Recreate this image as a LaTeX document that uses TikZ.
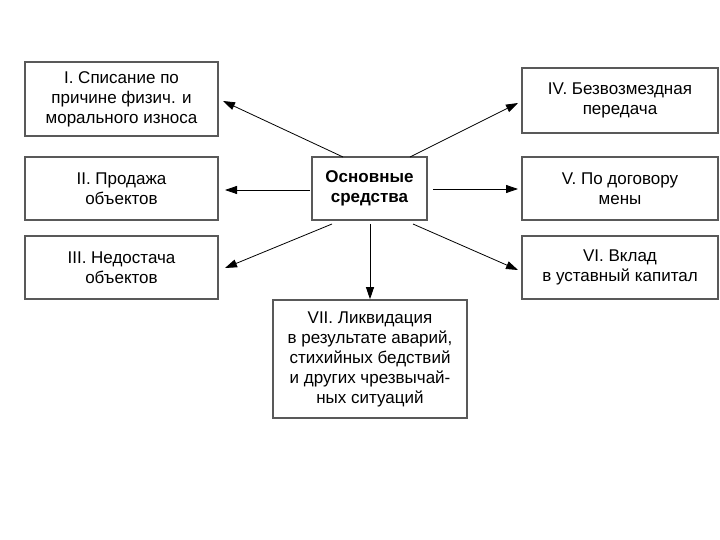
\documentclass[tikz,border=0pt]{standalone}
\usepackage{fontspec}
\setmainfont{Liberation Sans}
\usetikzlibrary{arrows.meta}
\begin{document}
\begin{tikzpicture}[x=1pt,y=-1pt,
  box/.style={draw=black!65,line width=1.6pt,align=center,font=\fontsize{17}{20}\selectfont,inner sep=0pt},
  arr/.style={-{Triangle[length=12pt,width=8pt]},line width=0.8pt}]
\useasboundingbox (0,0) rectangle (720,540);
\node[box,minimum width=193pt,minimum height=74pt] (b1) at (121.5,99) {I. Списание по\\причине физич. и\\морального износа};
\node[box,minimum width=193pt,minimum height=63pt] (b2) at (121.5,188.5) {II. Продажа\\объектов};
\node[box,minimum width=193pt,minimum height=63pt] (b3) at (121.5,267.5) {III. Недостача\\объектов};
\node[box,minimum width=196pt,minimum height=65pt] (b4) at (620,100.5) {IV. Безвозмездная\\передача};
\node[box,minimum width=196pt,minimum height=63pt] (b5) at (620,188.5) {V. По договору\\мены};
\node[box,minimum width=196pt,minimum height=63pt] (b6) at (620,267.5) {VI. Вклад\\в уставный капитал};
\node[box,font=\bfseries\fontsize{17}{20}\selectfont,minimum width=115pt,minimum height=63pt] (c) at (369.5,188.5) {Основные\\средства};
\node[box,minimum width=194pt,minimum height=118pt] (b7) at (370,359) {VII. Ликвидация\\в результате аварий,\\стихийных бедствий\\и других чрезвычай-\\ных ситуаций};
\coordinate (s1) at (343,157); \coordinate (e1) at (223,101);
\coordinate (s2) at (310,190); \coordinate (e2) at (225,190);
\coordinate (s3) at (332,224); \coordinate (e3) at (225,268);
\coordinate (s4) at (410,157); \coordinate (e4) at (518,103);
\coordinate (s5) at (433,189); \coordinate (e5) at (518,189);
\coordinate (s6) at (413,224); \coordinate (e6) at (518,270);
\coordinate (s7) at (370,224);
\draw[arr] (s1) -- (e1);
\draw[arr] (s2) -- (e2);
\draw[arr] (s3) -- (e3);
\draw[arr] (s4) -- (e4);
\draw[arr] (s5) -- (e5);
\draw[arr] (s6) -- (e6);
\draw[arr] (s7) -- (b7.north);
\end{tikzpicture}
\end{document}
